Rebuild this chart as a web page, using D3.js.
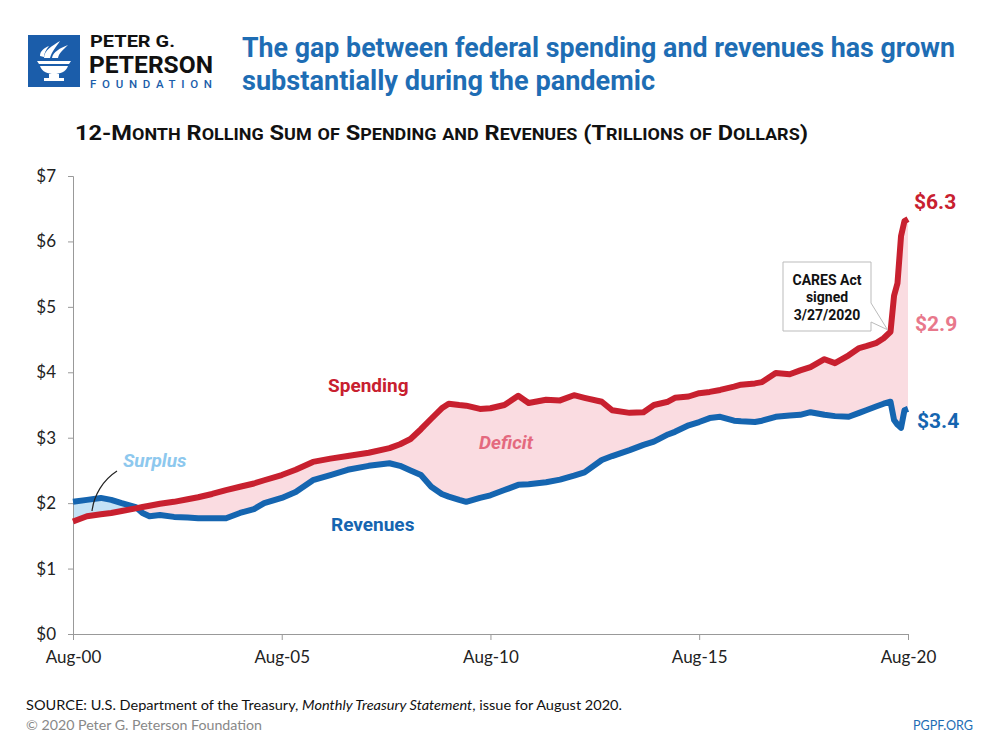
<!DOCTYPE html>
<html><head><meta charset="utf-8">
<script src="https://cdn.jsdelivr.net/npm/d3@7"></script>
<style>
html,body{margin:0;padding:0;background:#fff;}
svg{display:block;}
</style></head>
<body>
<svg id="chart" width="1000" height="750"></svg>
<script>
// ---- Data (trillions of dollars, 12-month rolling sums) ----
const dates = ["2000-08","2000-12","2001-04","2001-07","2001-10","2002-02","2002-04","2002-06","2002-09","2003-01",
"2003-05","2003-08","2003-12","2004-04","2004-08","2004-12","2005-03","2005-08","2005-12","2006-05",
"2006-10","2007-03","2007-09","2008-03","2008-06","2008-09","2008-12","2009-03","2009-06","2009-08",
"2009-11","2010-01","2010-05","2010-08","2010-12","2011-04","2011-07","2011-12","2012-04","2012-08",
"2012-11","2013-04","2013-07","2013-12","2014-04","2014-07","2014-11","2015-01","2015-05","2015-08",
"2015-11","2016-02","2016-06","2016-08","2016-12","2017-02","2017-06","2017-10","2018-01","2018-04",
"2018-08","2018-11","2019-03","2019-06","2019-08","2019-11","2020-01","2020-03","2020-04","2020-05",
"2020-06","2020-07","2020-08"];
const spending = [1.72,1.80,1.83,1.85,1.88,1.92,1.94,1.96,1.99,2.02,
2.06,2.09,2.14,2.20,2.25,2.30,2.35,2.43,2.51,2.63,
2.68,2.72,2.77,2.84,2.90,2.98,3.13,3.29,3.45,3.52,
3.50,3.49,3.44,3.45,3.50,3.64,3.53,3.58,3.57,3.65,
3.61,3.55,3.42,3.38,3.39,3.50,3.55,3.61,3.63,3.68,
3.70,3.73,3.78,3.81,3.83,3.85,3.99,3.97,4.03,4.08,
4.20,4.14,4.26,4.37,4.40,4.45,4.52,4.62,5.17,5.36,
6.08,6.31,6.34];
const revenues = [2.02,2.05,2.08,2.05,2.00,1.94,1.85,1.80,1.82,1.79,
1.78,1.77,1.77,1.77,1.85,1.91,2.00,2.08,2.17,2.35,
2.43,2.51,2.57,2.61,2.57,2.50,2.43,2.25,2.14,2.10,
2.05,2.02,2.08,2.12,2.20,2.28,2.29,2.32,2.36,2.42,
2.47,2.66,2.72,2.81,2.89,2.94,3.05,3.09,3.19,3.24,
3.30,3.32,3.26,3.25,3.24,3.26,3.32,3.34,3.35,3.39,
3.35,3.33,3.32,3.38,3.42,3.48,3.52,3.55,3.27,3.20,
3.15,3.42,3.44];
const yTicks = [0,1,2,3,4,5,6,7];
const yTickLabels = ["$0","$1","$2","$3","$4","$5","$6","$7"];
const xTickDates = ["2000-08","2005-08","2010-08","2015-08","2020-08"];
const xTickLabels = ["Aug-00","Aug-05","Aug-10","Aug-15","Aug-20"];
const endLabels = {spending:"$6.3", deficit:"$2.9", revenues:"$3.4"};

// ---- Setup ----
const parse = d3.timeParse("%Y-%m");
const data = dates.map((d,i)=>({date:parse(d), s:spending[i], r:revenues[i]}));
const svg = d3.select("#chart");
const RED="#C8202F", BLUE="#1565B0", PINK="#FADCE1", LBLUE="#C3E2F6";
const x = d3.scaleTime().domain([parse("2000-08"),parse("2020-08")]).range([73,908]);
const y = d3.scaleLinear().domain([0,7]).range([634,176]);
const bodyFont = "Lato, 'Open Sans', sans-serif";
const headFont = "'Liberation Sans Narrow', Roboto, 'Noto Sans', sans-serif";

// ---- Logo ----
const logo = svg.append("g");
logo.append("rect").attr("x",28).attr("y",35).attr("width",52).attr("height",52).attr("fill","#1B5DAA");
[["M44,58 C44,50 52,46 60,41 C56,47 52,51 50,58 Z"],
 ["M52,58 C53,52 60,48 68,45 C63,50 59,53 58,58 Z"],
 ["M40,56 C40,51 44,48 49,46 C46,50 44,53 44,57 Z"]].forEach(p=>{
  logo.append("path").attr("d",p[0]).attr("fill","#fff");
});
logo.append("path").attr("d","M37,61 L71,61 L69,64 L39,64 Z").attr("fill","#fff");
logo.append("path").attr("d","M40,66 L68,66 C66,72 60,74 54,74 C48,74 42,72 40,66 Z").attr("fill","#fff");
logo.append("rect").attr("x",49).attr("y",74).attr("width",10).attr("height",4).attr("fill","#fff");
logo.append("rect").attr("x",44).attr("y",78).attr("width",20).attr("height",3).attr("fill","#fff");
logo.append("text").attr("x",90).attr("y",47).text("PETER G.")
  .attr("font-family",headFont).attr("font-weight","bold").attr("font-size",16).attr("fill","#111")
  .attr("textLength",85).attr("lengthAdjust","spacingAndGlyphs");
logo.append("text").attr("x",89).attr("y",73).text("PETERSON")
  .attr("font-family",headFont).attr("font-weight","bold").attr("font-size",23).attr("fill","#111")
  .attr("textLength",124).attr("lengthAdjust","spacingAndGlyphs");
logo.append("text").attr("x",90).attr("y",88).text("FOUNDATION")
  .attr("font-family","Roboto, sans-serif").attr("font-weight","500").attr("font-size",11.5).attr("fill","#1B5DAA")
  .attr("textLength",122).attr("lengthAdjust","spacing");

// ---- Title ----
const title = svg.append("g").attr("font-family",headFont).attr("font-weight","bold").attr("font-size",27).attr("fill","#1E6DB4");
title.append("text").attr("x",242).attr("y",57).text("The gap between federal spending and revenues has grown")
  .attr("textLength",713).attr("lengthAdjust","spacingAndGlyphs");
title.append("text").attr("x",242).attr("y",90).text("substantially during the pandemic")
  .attr("textLength",413).attr("lengthAdjust","spacingAndGlyphs");

// ---- Subtitle (small caps) ----
const sub = svg.append("text").attr("x",75).attr("y",140).attr("font-family",headFont).attr("font-weight","bold")
  .attr("fill","#111").attr("textLength",733).attr("lengthAdjust","spacingAndGlyphs");
const subText = "12-Month Rolling Sum of Spending and Revenues (Trillions of Dollars)";
let buf = "", bufBig = null;
function flush(){ if(buf){ sub.append("tspan").attr("font-size",bufBig?21:16).text(buf); buf=""; } }
for(const ch of subText){
  const big = !(ch>='a' && ch<='z');
  if(bufBig!==null && big!==bufBig) flush();
  bufBig = big; buf += ch.toUpperCase();
}
flush();

// ---- Fills ----
const defs = svg.append("defs");
defs.append("clipPath").attr("id","aboveS").append("path")
  .attr("d", d3.area().x(d=>x(d.date)).y0(0).y1(d=>y(d.s))(data));
defs.append("clipPath").attr("id","belowS").append("path")
  .attr("d", d3.area().x(d=>x(d.date)).y0(750).y1(d=>y(d.s))(data));
const between = d3.area().x(d=>x(d.date)).y0(d=>y(d.s)).y1(d=>y(d.r));
svg.append("path").attr("d",between(data)).attr("fill",LBLUE).attr("clip-path","url(#aboveS)");
svg.append("path").attr("d",between(data)).attr("fill",PINK).attr("clip-path","url(#belowS)");

// ---- Axes ----
const yAxis = svg.append("g").attr("transform","translate(73,0)")
  .call(d3.axisLeft(y).tickValues(yTicks).tickFormat((d,i)=>yTickLabels[i]).tickSize(5).tickPadding(10));
const xAxis = svg.append("g").attr("transform","translate(0,634)")
  .call(d3.axisBottom(x).tickValues(xTickDates.map(parse)).tickFormat((d,i)=>xTickLabels[i]).tickSize(6).tickPadding(11));
[yAxis,xAxis].forEach(a=>{
  a.select(".domain").attr("stroke","#999").attr("stroke-width",1);
  a.selectAll(".tick line").attr("stroke","#999");
  a.selectAll("text").attr("font-family",bodyFont).attr("font-size",17).attr("fill","#222");
});
yAxis.selectAll(".tick text").attr("dx","-2");

// ---- Lines ----
const line = k => d3.line().x(d=>x(d.date)).y(d=>y(d[k]));
svg.append("path").attr("d",line("r")(data)).attr("fill","none").attr("stroke",BLUE).attr("stroke-width",6).attr("stroke-linejoin","round");
svg.append("path").attr("d",line("s")(data)).attr("fill","none").attr("stroke",RED).attr("stroke-width",6).attr("stroke-linejoin","round");

// ---- Labels ----
const lab = (t,xx,yy,col,opts={})=>svg.append("text").attr("x",xx).attr("y",yy).text(t)
  .attr("font-family",opts.font||headFont).attr("font-weight","bold").attr("font-size",opts.size||19)
  .attr("font-style",opts.italic?"italic":"normal").attr("fill",col).attr("text-anchor",opts.anchor||"start");
lab("Spending",328,392,RED,{size:19});
lab("Revenues",331,531,BLUE,{size:19});
lab("Surplus",123,467,"#8DC8EE",{size:19,italic:true});
lab("Deficit",479,449,"#E4697E",{size:19,italic:true});
const last = data[data.length-1];
lab(endLabels.spending,914,y(last.s)-10,RED,{size:21});
lab(endLabels.deficit,915,331,"#E8788B",{size:21});
lab(endLabels.revenues,917,y(last.r)+19,BLUE,{size:21});

svg.append("path").attr("d","M117,471 C103,480 94,495 92,511").attr("fill","none").attr("stroke","#222").attr("stroke-width",1.2);

// ---- CARES annotation ----
const cx = x(parse("2020-03")), cy = y(spending[dates.indexOf("2020-03")]);
svg.append("path").attr("d",`M783,262 L871,262 L871,303 L${cx-3},${cy-2} L871,322 L871,331 L783,331 Z`)
  .attr("fill","#fff").attr("stroke","#bbb").attr("stroke-width",1);
const ann = svg.append("g").attr("font-family",headFont).attr("font-weight","bold").attr("font-size",14).attr("fill","#111").attr("text-anchor","middle");
ann.append("text").attr("x",827).attr("y",285).text("CARES Act");
ann.append("text").attr("x",827).attr("y",302).text("signed");
ann.append("text").attr("x",827).attr("y",320).text("3/27/2020");

// ---- Footer ----
const foot = svg.append("g").attr("font-family",bodyFont).attr("font-size",14);
const s1 = foot.append("text").attr("x",26).attr("y",710).attr("fill","#111")
  .attr("textLength",596).attr("lengthAdjust","spacingAndGlyphs");
s1.append("tspan").text("SOURCE: U.S. Department of the Treasury, ");
s1.append("tspan").attr("font-style","italic").text("Monthly Treasury Statement");
s1.append("tspan").text(", issue for August 2020.");
foot.append("text").attr("x",26).attr("y",730).attr("fill","#888").text("© 2020 Peter G. Peterson Foundation")
  .attr("textLength",236).attr("lengthAdjust","spacingAndGlyphs");
foot.append("text").attr("x",913).attr("y",730).attr("fill","#1E6DB4").text("PGPF.ORG")
  .attr("textLength",60).attr("lengthAdjust","spacingAndGlyphs");
</script>
</body></html>
